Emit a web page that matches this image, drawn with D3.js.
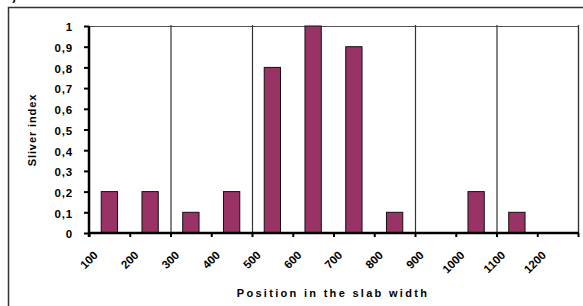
<!DOCTYPE html>
<html>
<head>
<meta charset="utf-8">
<script src="https://cdn.jsdelivr.net/npm/d3@7"></script>
<style>
  body { margin: 0; background: #fff; }
  svg { display: block; font-family: Arial, "Liberation Sans", sans-serif; }
</style>
</head>
<body>
<div id="chart"></div>
<script>
// categories (position in slab width) and silver index values
var positions = ["100", "200", "300", "400", "500", "600", "700", "800", "900", "1000", "1100", "1200"];
var sliverIndex = [0.2, 0.2, 0.1, 0.2, 0.8, 1, 0.9, 0.1, 0, 0.2, 0.1, 0];
var yTicks = [0, 0.1, 0.2, 0.3, 0.4, 0.5, 0.6, 0.7, 0.8, 0.9, 1];
// vertical separator lines sit on these boundaries
var separators = ["300", "500", "900", "1100", "1300"];
var boundaries = positions.concat(["1300"]);

var svgWidth = 583;
var svgHeight = 306;

var plot = { left: 89, right: 578, top: 26, bottom: 233 };

var svg = d3.select("#chart")
    .append("svg")
    .attr("width", svgWidth)
    .attr("height", svgHeight);

// outer chart border (runs off right/bottom edge)
svg.append("path")
    .attr("d", `M8.5,${svgHeight + 2} V7.5 H${svgWidth + 2}`)
    .attr("fill", "none")
    .attr("stroke", "#333")
    .attr("stroke-width", 1.5);

// cropped panel letter at top left
svg.append("text")
    .attr("x", 5)
    .attr("y", 0)
    .style("font-size", "12px")
    .style("font-weight", "bold")
    .text("b)");

//scales
var xBand = d3.scaleBand()
    .domain(positions)
    .range([plot.left, plot.right])
    .paddingInner(0.6)
    .paddingOuter(0.3);

var xEdge = d3.scalePoint()
    .domain(boundaries)
    .range([plot.left, plot.right]);

var yScale = d3.scaleLinear()
    .domain([0, 1])
    .range([plot.bottom, plot.top]);

// plot area frame: top + right
svg.append("path")
    .attr("d", `M${plot.left},${plot.top + 0.5} H${plot.right + 0.5} V${plot.bottom}`)
    .attr("fill", "none")
    .attr("stroke", "#555")
    .attr("stroke-width", 1.2);

// vertical separators
svg.append("g")
    .selectAll("line")
    .data(separators)
    .enter()
    .append("line")
    .attr("x1", d => xEdge(d) + 0.5)
    .attr("x2", d => xEdge(d) + 0.5)
    .attr("y1", plot.top - 1)
    .attr("y2", plot.bottom)
    .attr("stroke", "#333")
    .attr("stroke-width", 1.2);

// bars
svg.append("g")
    .selectAll("rect")
    .data(positions)
    .enter()
    .append("rect")
    .attr("x", d => xBand(d))
    .attr("y", (d, i) => yScale(sliverIndex[i]))
    .attr("width", xBand.bandwidth())
    .attr("height", (d, i) => yScale(0) - yScale(sliverIndex[i]))
    .attr("fill", "#993366")
    .attr("stroke", "#111")
    .attr("stroke-width", 1);

// y axis
var leftAxis = d3.axisLeft(yScale)
    .tickValues(yTicks)
    .tickSize(5)
    .tickPadding(11)
    .tickFormat(d => d === 0 ? "0" : d === 1 ? "1" : d3.format(".1f")(d).replace(".", ","));

var yAxis = svg.append("g")
    .attr("transform", `translate(${plot.left}, 0)`)
    .call(leftAxis);

yAxis.select(".domain")
    .attr("d", `M0,${plot.top} V${plot.bottom + 4}`)
    .attr("stroke", "#000")
    .attr("stroke-width", 2.5);
yAxis.selectAll(".tick line").attr("stroke", "#000").attr("stroke-width", 2);
yAxis.selectAll(".tick text")
    .attr("dy", "0.42em")
    .style("font-size", "11.5px")
    .style("font-weight", "bold")
    .style("letter-spacing", "0.8px")
    .attr("fill", "#000");

// x axis
var bottomAxis = d3.axisBottom(xEdge)
    .tickSize(4)
    .tickSizeOuter(0)
    .tickFormat(d => d === "1300" ? "" : d);

var xAxis = svg.append("g")
    .attr("transform", `translate(0, ${plot.bottom})`)
    .call(bottomAxis);

xAxis.select(".domain")
    .attr("d", `M${plot.left},0 H${plot.right + 1}`)
    .attr("stroke", "#000")
    .attr("stroke-width", 2.5);
xAxis.selectAll(".tick line").attr("stroke", "#000").attr("stroke-width", 2);
xAxis.selectAll(".tick text")
    .attr("transform", "translate(9, 23) rotate(-45)")
    .attr("x", 0)
    .attr("y", 0)
    .attr("dy", "0")
    .style("text-anchor", "end")
    .style("font-size", "11.5px")
    .style("font-weight", "bold")
    .attr("fill", "#000");

// axis titles
svg.append("text")
    .attr("transform", "rotate(-90)")
    .attr("x", -130)
    .attr("y", 36)
    .style("text-anchor", "middle")
    .style("font-size", "11px")
    .style("font-weight", "bold")
    .style("letter-spacing", "0.9px")
    .text("Sliver index");

svg.append("text")
    .attr("x", 333)
    .attr("y", 297)
    .style("text-anchor", "middle")
    .style("font-size", "11px")
    .style("font-weight", "bold")
    .style("letter-spacing", "2.3px")
    .text("Position in the slab width");
</script>
</body>
</html>
